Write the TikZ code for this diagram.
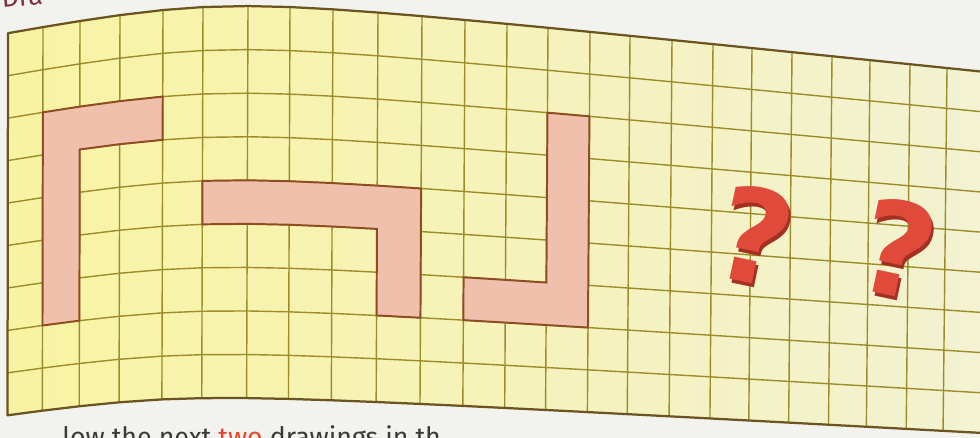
\documentclass[tikz,border=0pt]{standalone}
\usepackage{fontspec}
\setmainfont{Fira Sans}
\newfontfamily\qfont{DejaVu Sans}
\usetikzlibrary{calc}
\definecolor{pagebg}{HTML}{F2F2EF}
\definecolor{cellyellow}{HTML}{F8F3A2}
\definecolor{cellpale}{HTML}{F3F2D2}
\definecolor{gridolive}{HTML}{9C8C2A}
\definecolor{borderbrown}{HTML}{6B5420}
\definecolor{shapepink}{HTML}{F0C0AC}
\definecolor{shapeedge}{HTML}{8E4E22}
\definecolor{qred}{HTML}{E04A3A}
\definecolor{qshadow}{HTML}{A33020}
\definecolor{textgrey}{HTML}{3C3A38}
\definecolor{twored}{HTML}{E5452C}
\definecolor{titlemaroon}{HTML}{7E2E3E}
\tikzset{gridline/.style={draw=gridolive,line width=1pt},
  gridborder/.style={draw=borderbrown,line width=1.6pt,line join=round},
  lshape/.style={fill=shapepink,draw=shapeedge,line width=1.4pt},
  qmark/.style={font=\qfont\bfseries\fontsize{92}{92}\selectfont,text=qred,inner sep=0pt,rotate=-12},
  caption/.style={font=\fontsize{19}{19}\selectfont,text=textgrey,inner sep=0pt}}
\def\colx{{8,43,80,120,163,203,248,290,333,378,422,465,507,548,590,630,672,713,752,792,832,870,910,947,985}}
\newcommand\qshade{\rlap{\kern2pt\raisebox{-2pt}{\color{qshadow}?}}?}

\begin{document}
\begin{tikzpicture}[x=.025cm,y=-.025cm,
  declare function={topb(\x)=-1.6-0.0475*\x+15.25*sqrt(((\x-205)/100)^2+1.44);
    botb(\x)=395-0.0525*\x+10.75*sqrt(((\x-158)/100)^2+1.44);}]
\useasboundingbox (0,0) rectangle (980,438);
\clip (0,0) rectangle (980,438);
\fill[pagebg] (0,0) rectangle (980,438);
% grid intersections, following the bent page
\foreach \u in {0,...,24}{\foreach \v in {0,...,9}{
  \pgfmathsetmacro\gx{\colx[\u]-\v/9*(0.5+0.15*\u)}
  \pgfmathsetmacro\gy{topb(\gx)+\v/9*(botb(\gx)-topb(\gx))}
  \coordinate (g-\u-\v) at (\gx,\gy);}}
% paper and lines
\shade[left color=cellyellow,right color=cellpale] (g-0-0) \foreach \u in {1,...,24}{--(g-\u-0)}
  \foreach \u in {24,...,0}{--(g-\u-9)} -- cycle;
\foreach \v in {1,...,8}\draw[gridline] (g-0-\v) \foreach \u in {1,...,24}{--(g-\u-\v)};
\foreach \u in {1,...,24}\draw[gridline] (g-\u-0)--(g-\u-9);
\draw[gridborder] (g-24-0) \foreach \u in {23,...,0}{--(g-\u-0)} -- (g-0-9) \foreach \u in {1,...,24}{--(g-\u-9)};
% the three L shapes
\filldraw[lshape] (g-1-2)--(g-2-2)--(g-3-2)--(g-4-2)--(g-4-3)--(g-3-3)--(g-2-3)--(g-2-7)--(g-1-7)--cycle;
\filldraw[lshape] (g-5-4)--(g-6-4)--(g-7-4)--(g-8-4)--(g-9-4)--(g-10-4)--(g-10-7)--(g-9-7)--(g-9-5)
  --(g-8-5)--(g-7-5)--(g-6-5)--(g-5-5)--cycle;
\filldraw[lshape] (g-13-2)--(g-14-2)--(g-14-7)--(g-13-7)--(g-12-7)--(g-11-7)--(g-11-6)--(g-12-6)--(g-13-6)--cycle;
% question marks
\node[qmark] (q1) at (755,237) {\qshade};
\node[qmark] (q2) at (898,250) {\qshade};
% cut-off texts
\node[caption,anchor=base west,text=titlemaroon,rotate=5] (heading) at (2,8) {Dra};
\node[caption,anchor=base west] (prompt) at (62,446) {low the next \textcolor{twored}{two} drawings in th};
\end{tikzpicture}
\end{document}
